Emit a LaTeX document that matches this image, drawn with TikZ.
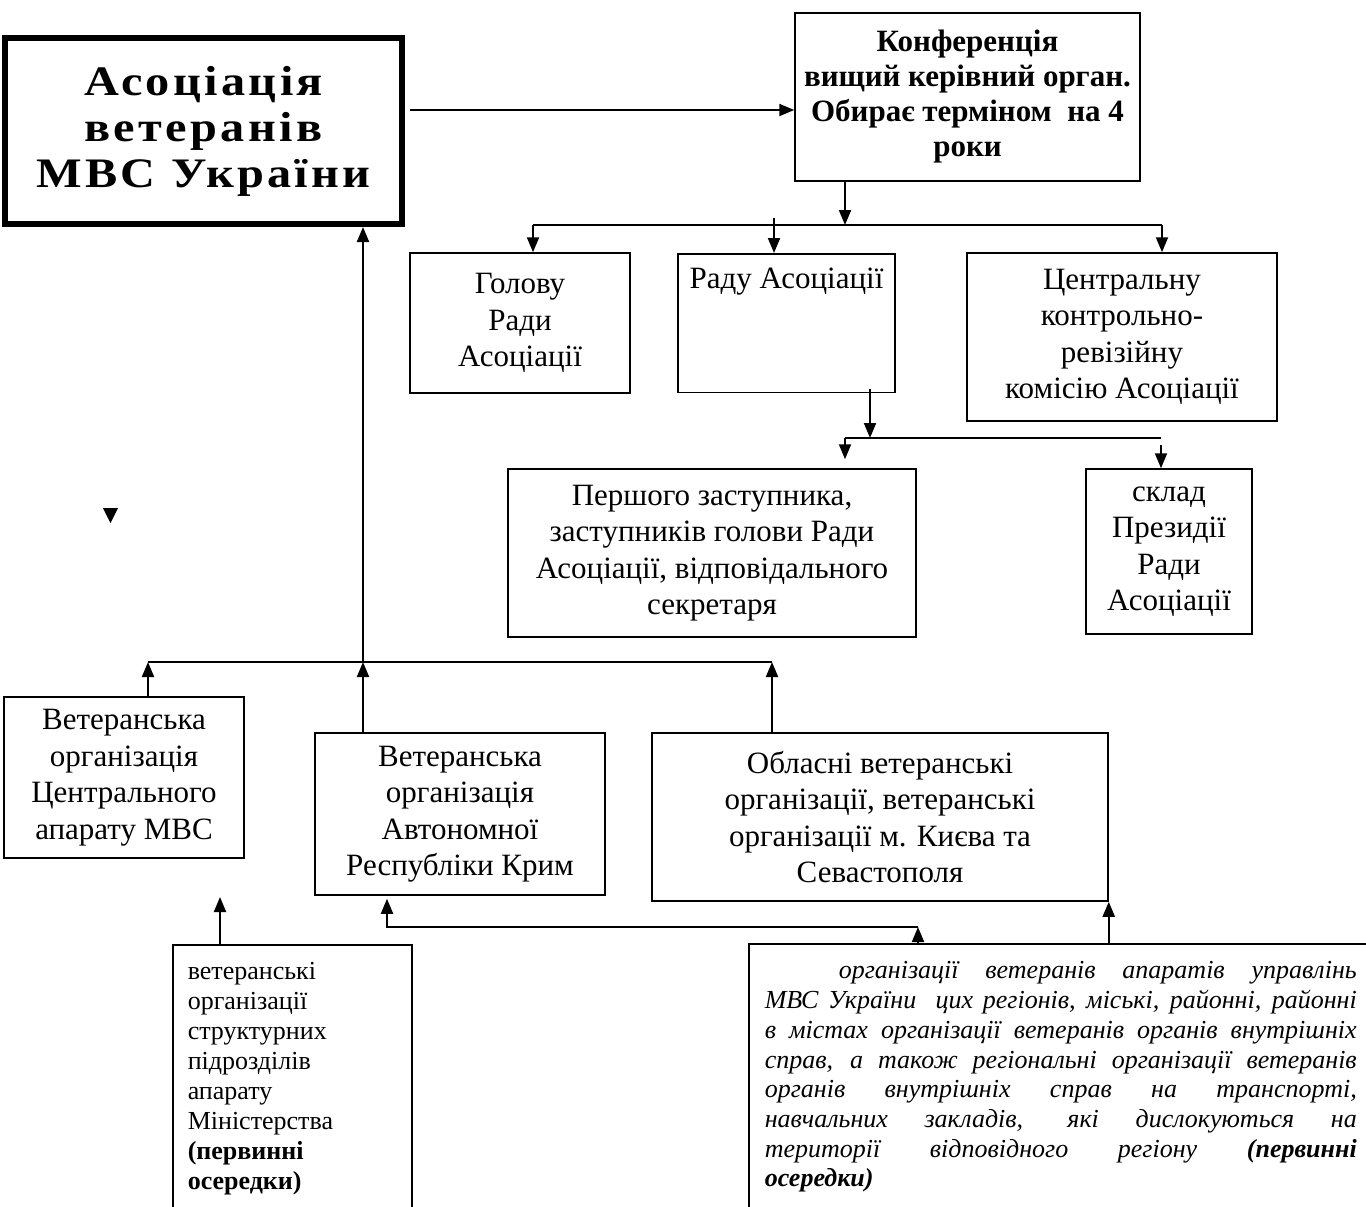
\documentclass[tikz,border=0pt]{standalone}
\usepackage{fontspec}
\setmainfont{Liberation Serif}
\newfontfamily\widefont[FakeStretch=1.15,LetterSpace=8]{Liberation Serif}
\usetikzlibrary{arrows.meta}

\begin{document}
\begin{tikzpicture}[x=1pt, y=-1pt,
    box/.style={draw, line width=1.5pt, align=center, inner sep=0pt, font=\fontsize{31}{36.5}\selectfont},
    line/.style={line width=2pt},
    arr/.style={line width=2pt, -{Triangle[length=15pt,width=12pt]}}]
  \useasboundingbox (0,0) rectangle (1366,1207);
  \clip (0,0) rectangle (1366,1207);
  \node[box, line width=6pt, minimum width=397pt, minimum height=186pt, font=\widefont\bfseries\fontsize{42}{46}\selectfont] (assoc) at (203.5,131) {Асоціація\\ветеранів\\МВС України};
  \node[box, minimum width=345pt, minimum height=168pt, font=\bfseries\fontsize{31}{35}\selectfont] (conf) at (967.5,97) {Конференція\\вищий керівний орган.\\Обирає терміном\ \ на 4\\роки};
  \node[box, minimum width=220pt, minimum height=140pt] (golova) at (520,323) {Голову\\Ради\\Асоціації};
  \node[box, anchor=north, minimum width=217pt, inner ysep=14pt, text depth=90pt] (rada) at (786.5,253) {Раду Асоціації};
  \node[box, minimum width=310pt, minimum height=168pt] (central) at (1122,337) {Центральну\\контрольно-\\ревізійну\\комісію Асоціації};
  \node[box, minimum width=408pt, minimum height=168pt] (zast) at (712,553) {Першого заступника,\\заступників голови Ради\\Асоціації, відповідального\\секретаря};
  \node[box, minimum width=166pt, minimum height=165pt] (sklad) at (1169,551.5) {склад\\Президії\\Ради\\Асоціації};
  \node[box, minimum width=240pt, minimum height=161pt] (capar) at (124,777.5) {Ветеранська\\організація\\Центрального\\апарату МВС};
  \node[box, minimum width=290pt, minimum height=162pt] (krym) at (460,814) {Ветеранська\\організація\\Автономної\\Республіки Крим};
  \node[box, minimum width=456pt, minimum height=168pt] (oblast) at (880,817) {Обласні ветеранські\\організації, ветеранські\\організації м. Києва та\\Севастополя};
  \node[box, anchor=north west, align=left, text width=209pt, inner xsep=15pt, inner ysep=18pt, text depth=231pt, font=\fontsize{26}{30}\selectfont] (struct) at (172,944) {ветеранські\\організації\\структурних\\підрозділів\\апарату\\Міністерства\\\textbf{(первинні}\\\textbf{осередки)}};
  \node[box, anchor=north west, align=justify, text width=592pt, inner xsep=16pt, inner ysep=18pt, text depth=240pt, font=\itshape\fontsize{26}{29.7}\selectfont] (region) at (748,943) {\hspace*{74pt}організації ветеранів апаратів управлінь\linebreak
    МВС України\ \ цих регіонів, міські, районні, районні\linebreak
    в містах організації ветеранів органів внутрішніх\linebreak
    справ, а також регіональні організації ветеранів\linebreak
    органів внутрішніх справ на транспорті,\linebreak
    навчальних закладів, які дислокуються на\linebreak
    території відповідного регіону \textbf{(первинні}\linebreak
    \textbf{осередки)}};
  \draw[arr] ([xshift=5pt,yshift=21pt]assoc.east) -- ([yshift=21pt]assoc.east -| conf.west);
  \coordinate (c0) at (845,225);
  \coordinate (b1) at (533,225);
  \coordinate (b2) at (1162,225);
  \coordinate (b3) at (774,218);
  \draw[arr] (c0 |- conf.south) -- (c0);
  \draw[line] (b1) -- (b2);
  \draw[arr] (b1) -- (b1 |- golova.north);
  \draw[arr] (b3) -- (b3 |- rada.north);
  \draw[arr] (b2) -- (b2 |- central.north);
  \coordinate (r0) at (870,438);
  \coordinate (r1) at (845,438);
  \coordinate (r2) at (1161,438);
  \draw[arr] ([yshift=4pt]r0 |- rada.south) -- (r0);
  \draw[line] (r1) -- (r2);
  \draw[arr] (r1) -- ([yshift=9pt]r1 |- zast.north);
  \draw[arr] ([yshift=-7pt]r2) -- (r2 |- sklad.north);
  \coordinate (m0) at (363,662);
  \coordinate (m1) at (148,662);
  \coordinate (m2) at (772,662);
  \draw[arr] (m0) -- (m0 |- assoc.south);
  \draw[line] (m1) -- (m2);
  \draw[arr] (m1 |- capar.north) -- (m1);
  \draw[arr] (m0 |- krym.north) -- (m0);
  \draw[arr] (m2 |- oblast.north) -- (m2);
  \coordinate (s0) at (220,897);
  \coordinate (k0) at (387,927);
  \coordinate (k1) at (918,927);
  \draw[arr] (s0 |- struct.north) -- (s0);
  \draw[arr] (k1 |- region.north) -- (k1);
  \draw[arr] (k1) -- (k0) -- ([yshift=-3pt]k0 |- krym.south);
  \draw[arr] (oblast.south east |- region.north) -- (oblast.south east);
  \fill (103,508) -- (118,508) -- (110.5,523) -- cycle;
\end{tikzpicture}
\end{document}
